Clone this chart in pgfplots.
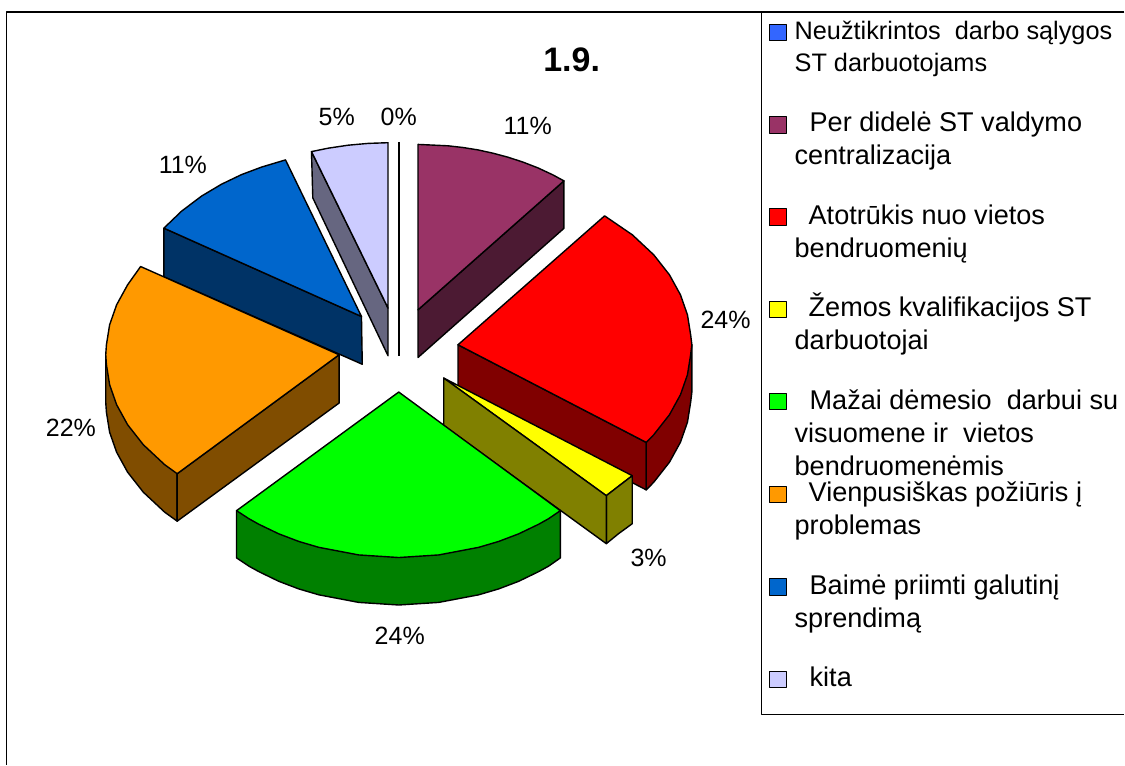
\documentclass[border=0pt]{standalone}
\usepackage{pgfplots}
\pgfplotsset{compat=1.18}
\usepackage{fontspec}
\setmainfont{Liberation Sans}
\definecolor{cMar}{HTML}{993366}\definecolor{cMarD}{HTML}{4C1A33}
\definecolor{cRed}{HTML}{FF0000}\definecolor{cRedD}{HTML}{800000}
\definecolor{cYel}{HTML}{FFFF00}\definecolor{cYelD}{HTML}{808000}
\definecolor{cGre}{HTML}{00FF00}\definecolor{cGreD}{HTML}{008000}
\definecolor{cOra}{HTML}{FF9900}\definecolor{cOraD}{HTML}{804D00}
\definecolor{cBlu}{HTML}{0066CC}\definecolor{cBluD}{HTML}{003366}
\definecolor{cLav}{HTML}{CCCCFF}\definecolor{cLavD}{HTML}{666680}
\definecolor{cFirst}{HTML}{3366FF}
\newcommand{\legA}[3]{\node[anchor=base west,inner sep=0pt,font=\fontsize{25.3}{30}\selectfont] at (axis cs:#1,#2) {#3};}
\newcommand{\leg}[3]{\node[anchor=base west,inner sep=0pt,font=\fontsize{27.1}{32}\selectfont] at (axis cs:#1,#2) {#3};}
\newcommand{\lab}[3]{\node[anchor=center,inner sep=0pt,font=\fontsize{25}{30}\selectfont] at (axis cs:#1,#2) {#3};}
\begin{document}
\begin{tikzpicture}
\begin{axis}[
  width=1125pt,height=765pt,scale only axis,
  xmin=0,xmax=1125,ymin=0,ymax=765,y dir=reverse,
  hide axis,clip=false,
  every axis plot/.append style={forget plot,no markers,sharp plot,line join=round,line width=1.4pt,draw=black}]
% page extent
\addplot[draw=none,fill=white] coordinates {(0,0)(1125,0)(1125,765)(0,765)} --cycle;
% frames
\addplot[line width=1.5pt] coordinates {(1125,12)(6.5,12)(6.5,765)};
\addplot[line width=1pt] coordinates {(761.7,12)(761.7,715)(1125,715)};
% kita
\addplot[fill=cLavD] coordinates {(311.7,151.7)(388.3,308.3)(388.3,356)(313,198)} --cycle;
\addplot[fill=cLav] coordinates {(388.3,308.3)(311.7,151.7)(328.3,148.3)(348.3,145.3)(368.3,143.5)(388.3,142.8)} --cycle;
% zero slice
\addplot[line width=2pt] coordinates {(399,142)(399,356)};
% maroon
\addplot[fill=cMarD] coordinates {(418.3,310)(564.3,181)(564.3,228.5)(418.3,357.7)} --cycle;
\addplot[fill=cMar] coordinates {(418.3,310)(418.3,144.5)(448.3,145.9)(463.3,147.6)(478.3,150)(493.3,153.3)(508.3,157.3)(523.3,162.2)(538.3,168)(553.3,175)(564.3,181)} --cycle;
% blue
\addplot[fill=cBluD] coordinates {(164,228.3)(361.7,316.7)(362.5,364.5)(164,277)} --cycle;
\addplot[fill=cBlu] coordinates {(361.7,316.7)(285.7,160)(261.7,167.2)(241.7,174.7)(221.7,184.3)(201.7,196.2)(181.7,211.3)(164,228.3)} --cycle;
% orange
\addplot[fill=cOraD] coordinates {(105.8,355)(105.8,402.5)(106.5,412.5)(109.7,432.5)(116.7,452.5)(127.7,472.5)(143.4,492.5)(164.8,512.5)(177.3,521.5)(177.3,474)} --cycle;
\addplot[fill=cOraD] coordinates {(339.3,355)(339.3,403.3)(177.3,521.5)(177.3,474)} --cycle;
\addplot[fill=cOra] coordinates {(339.3,355)(140.7,266.7)(127.7,285)(116.7,305)(109.7,325)(106.5,345)(105.8,355)(106.5,365)(109.7,385)(116.7,405)(127.7,425)(143.4,445)(164.8,465)(177.3,474)} --cycle;
% red
\addplot[fill=cRedD] coordinates {(458.3,345)(646.7,442.7)(646.7,490.2)(458.3,393)} --cycle;
\addplot[fill=cRedD] coordinates {(646.7,442.7)(692.3,345)(692.3,392.5)(691.1,402.5)(687.9,422.5)(680.9,442.5)(669.9,462.5)(654.2,482.5)(646.7,490.2)} --cycle;
\addplot[fill=cRed] coordinates {(458.3,345)(605,216)(632.8,235)(654.2,255)(669.9,275)(680.9,295)(687.9,315)(691.1,335)(692.3,345)(691.1,355)(687.9,375)(680.9,395)(669.9,415)(654.2,435)(646.7,442.7)} --cycle;
% yellow
\addplot[fill=cYel] coordinates {(444,378.3)(632.7,476)(619,486.5)(606.7,496)} --cycle;
\addplot[fill=cYelD] coordinates {(606.7,496)(619,486.5)(632.7,476)(632.7,524)(619,534)(606.7,544)} --cycle;
\addplot[fill=cYelD] coordinates {(444,378.3)(606.7,496)(606.7,544)(444,426)} --cycle;
% green
\addplot[fill=cGreD] coordinates {(236.7,511)(236.7,558.3)(249,566.5)(259,572)(279,581.7)(299,589.3)(319,595.2)(359,602.8)(399,605.4)(439,602.8)(479,595.2)(499,589.3)(519,581.7)(539,572)(549,566.5)(560.7,558.3)(560.7,511)} --cycle;
\addplot[fill=cGre] coordinates {(399,392.3)(236.7,511)(249,519)(259,524.6)(279,534.2)(299,541.8)(319,547.7)(359,555.3)(399,557.9)(439,555.3)(479,547.7)(499,541.8)(519,534.2)(539,524.6)(549,519)(560.7,511)} --cycle;
% legend swatches
\addplot[fill=cFirst,line width=1pt] coordinates {(770,24.3)(786.7,24.3)(786.7,40.7)(770,40.7)} --cycle;
\addplot[fill=cMar,line width=1pt] coordinates {(770,116.7)(786.7,116.7)(786.7,133.3)(770,133.3)} --cycle;
\addplot[fill=cRed,line width=1pt] coordinates {(770,209)(786.7,209)(786.7,225.7)(770,225.7)} --cycle;
\addplot[fill=cYel,line width=1pt] coordinates {(770,301.7)(786.7,301.7)(786.7,317.7)(770,317.7)} --cycle;
\addplot[fill=cGre,line width=1pt] coordinates {(770,394)(786.7,394)(786.7,410)(770,410)} --cycle;
\addplot[fill=cOra,line width=1pt] coordinates {(770,486.7)(786.7,486.7)(786.7,503)(770,503)} --cycle;
\addplot[fill=cBlu,line width=1pt] coordinates {(770,579)(786.7,579)(786.7,595.7)(770,595.7)} --cycle;
\addplot[fill=cLav,line width=1pt] coordinates {(770,671.7)(786.7,671.7)(786.7,688)(770,688)} --cycle;
% legend text
\legA{795}{40}{Neužtikrintos\ \ darbo sąlygos}
\legA{795}{72}{ST darbuotojams}
\leg{810}{132}{Per didelė ST valdymo}
\leg{795}{165}{centralizacija}
\leg{809}{225}{Atotrūkis nuo vietos}
\leg{795}{258}{bendruomenių}
\leg{809}{317}{Žemos kvalifikacijos ST}
\leg{795}{350}{darbuotojai}
\leg{810}{410}{Mažai dėmesio\ \ darbui su}
\leg{795}{443}{visuomene ir\ \ vietos}
\leg{795}{476}{bendruomenėmis}
\leg{809}{502}{Vienpusiškas požiūris į}
\leg{795}{535}{problemas}
\leg{810}{595}{Baimė priimti galutinį}
\leg{795}{628}{sprendimą}
\leg{810}{687}{kita}
% labels
\lab{528}{126}{11\%}
\lab{726}{320}{24\%}
\lab{649}{558}{3\%}
\lab{400}{636}{24\%}
\lab{71}{428}{22\%}
\lab{183}{165}{11\%}
\lab{337}{117}{5\%}
\lab{399}{117}{0\%}
\node[anchor=center,inner sep=0pt,font=\fontsize{34}{38}\selectfont\bfseries] at (axis cs:572,60) {1.9.};
\end{axis}
\end{tikzpicture}
\end{document}
